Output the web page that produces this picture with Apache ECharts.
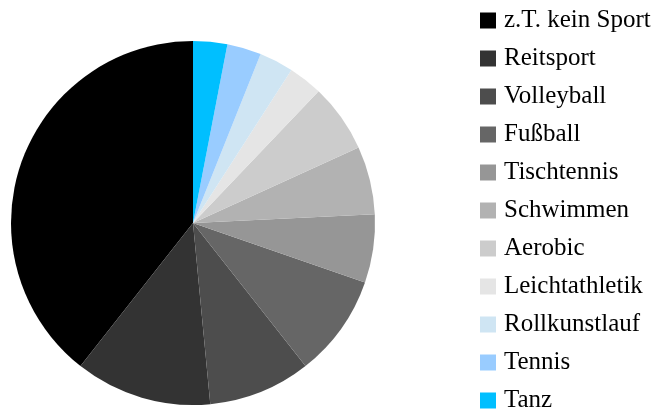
<!DOCTYPE html>
<html>
<head>
<meta charset="utf-8">
<script src="https://cdn.jsdelivr.net/npm/echarts@6/dist/echarts.min.js"></script>
<style>
  html, body { margin: 0; padding: 0; background: #ffffff; }
  #chart { width: 656px; height: 412px; }
</style>
</head>
<body>
<div id="chart"></div>
<script>
// Sportarten und Anzahl der Nennungen
const sports = ['z.T. kein Sport', 'Reitsport', 'Volleyball', 'Fußball', 'Tischtennis',
  'Schwimmen', 'Aerobic', 'Leichtathletik', 'Rollkunstlauf', 'Tennis', 'Tanz'];
const counts = [13, 4, 3, 3, 2, 2, 2, 1, 1, 1, 1];
const sliceColors = ['#000000', '#333333', '#4d4d4d', '#666666', '#969696',
  '#b2b2b2', '#cccccc', '#e5e5e5', '#cfe5f3', '#99ccff', '#00bfff'];

const chart = echarts.init(document.getElementById('chart'), null, { renderer: 'canvas' });

chart.setOption({
  animation: false,
  backgroundColor: '#ffffff',
  color: sliceColors,
  legend: {
    orient: 'vertical',
    left: 480,
    top: 8,
    height: 500,
    padding: 0,
    icon: 'rect',
    itemWidth: 16,
    itemHeight: 16,
    itemGap: 13,
    itemStyle: { borderWidth: 0 },
    selectedMode: false,
    textStyle: {
      fontFamily: '"Liberation Serif", "Times New Roman", serif',
      fontSize: 25,
      color: '#000000',
      padding: [0, 0, 0, 3]
    },
    data: sports
  },
  series: [{
    type: 'pie',
    center: [193, 223],
    radius: 182,
    startAngle: 90,
    clockwise: false,
    label: { show: false },
    labelLine: { show: false },
    emphasis: { disabled: true },
    itemStyle: { borderWidth: 0 },
    data: sports.map((name, i) => ({ name: name, value: counts[i] }))
  }]
});
</script>
</body>
</html>
